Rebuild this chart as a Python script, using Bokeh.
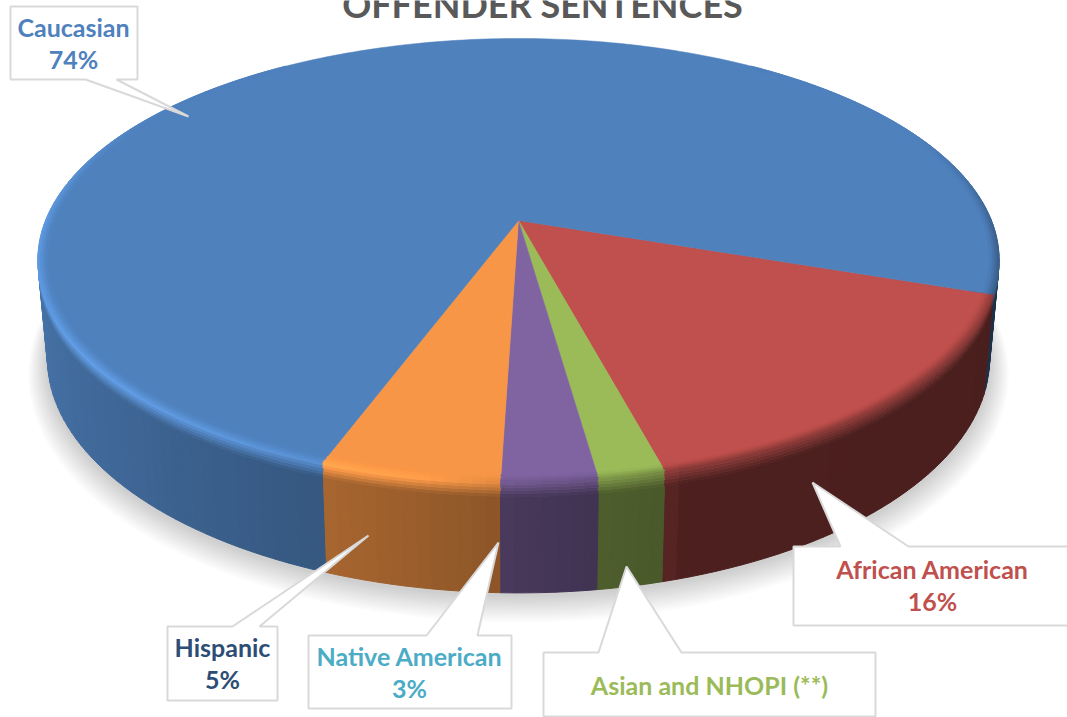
import numpy as np
from bokeh.plotting import figure
from bokeh.embed import file_html
from bokeh.resources import INLINE
from bokeh.core.properties import value

title = "OFFENDER SENTENCES"
categories = ["African American", "Asian and NHOPI (**)", "Native American", "Hispanic", "Caucasian"]
shares = [15.6, 1.9, 2.72, 5.1, 74.68]
share_labels = ["16%", None, "3%", "5%", "74%"]
slice_colors = [(192, 80, 77), (155, 187, 89), (128, 100, 162), (247, 150, 70), (79, 129, 189)]
label_colors = ["#C0504D", "#9BBB59", "#4BACC6", "#2C4D75", "#4F81BD"]

W, H = 1067, 717
FIRST_ANGLE = 109.0
CX, CY, A, B, K = 518.0, 220.0, 473.0, 214.4, 0.178
Z_BEVEL, Z_BOTTOM, TAPER = 13.0, 96.0, 0.02


def project(theta_deg, r=1.0, z=0.0):
    th = np.radians(theta_deg)
    u, v = r * np.sin(th), r * np.cos(th)
    d = 1 + K * v
    s = 1 - TAPER * z / Z_BOTTOM
    return CX + A * s * u / d, CY + z / d - B * s * v / d


L_T = [0, 60, 109, 163, 165, 172, 180, 200, 230, 270, 300, 360]
L_V = [.3, .3, .38, .40, .47, .50, .56, .68, .80, .93, .95, .95]
H_T = [0, 60, 165, 180, 190, 200, 230, 270, 285, 310, 360]
H_V = [0, 0, 0, .2, .5, .6, .8, .8, .5, 0, 0]
S_T = [0, 65, 95, 285, 320, 360]
S_V = [0, 0, 1, 1, 0, 0]


def hexc(c):
    return "#%02x%02x%02x" % tuple(int(np.clip(round(x), 0, 255)) for x in c)


p = figure(width=W, height=H, x_range=(0, W), y_range=(H, 0), output_backend="svg",
           toolbar_location=None, min_border=0, outline_line_color=None)
p.axis.visible = False
p.grid.visible = False

# soft shadow
ts = np.arange(0, 360.5, 3.0)
for i in range(12, 0, -1):
    sx, sy = project(ts, r=1.0 + i * 0.0035, z=Z_BOTTOM + 2 + i * 0.9)
    p.patch(list(sx), list(sy), fill_color="black", fill_alpha=0.016, line_color=None)

bounds = FIRST_ANGLE + np.cumsum([0] + [s / sum(shares) * 360 for s in shares])

side = ([], [], [], [])
bevel = ([], [], [], [])
rim = ([], [], [], [])
STEP = 1.5
N_BANDS = 9
RIM_FRACTION = 0.45


def place(t, a):
    if a < RIM_FRACTION:
        return project(t, r=0.98 + 0.02 * a / RIM_FRACTION, z=0)
    return project(t, z=Z_BEVEL * (a - RIM_FRACTION) / (1 - RIM_FRACTION))


for start, stop, base in zip(bounds[:-1], bounds[1:], slice_colors):
    n = max(1, int(np.ceil((stop - start) / STEP)))
    edges = np.linspace(start, stop, n + 1)
    base = np.array(base, float)
    for t0, t1 in zip(edges[:-1], edges[1:]):
        tm = ((t0 + t1) / 2) % 360
        if not 35 < tm < 325:
            continue
        L = np.interp(tm, L_T, L_V)
        hl = np.interp(tm, H_T, H_V)
        st = np.interp(tm, S_T, S_V)
        x0, y0 = project(t0, z=Z_BEVEL)
        x1, y1 = project(t1, z=Z_BEVEL)
        x2, y2 = project(t1, z=Z_BOTTOM)
        x3, y3 = project(t0, z=Z_BOTTOM)
        side[0].append([x0, x1, x2, x3])
        side[1].append([y0, y1, y2, y3])
        side[2].append(hexc(base * L))
        side[3].append(-np.cos(np.radians(tm)))
        mid = (1 - hl) * base * (1 + L) / 2 + hl * base * 1.3
        for b in range(N_BANDS):
            a0, a1 = b / N_BANDS, (b + 1) / N_BANDS
            am = (a0 + a1) / 2
            if am < 0.5:
                col = base + (mid - base) * (am / 0.5)
            else:
                col = mid + (base * L - mid) * ((am - 0.5) / 0.5)
            pts = [place(t0, a0), place(t1, a0), place(t1, a1), place(t0, a1)]
            if a0 < RIM_FRACTION:
                target = rim
                col = base + (col - base) * st
            else:
                target = bevel
            target[0].append([q[0] for q in pts])
            target[1].append([q[1] for q in pts])
            target[2].append(hexc(col))
            target[3].append(-a0)


def draw(group, lw):
    idx = np.argsort(group[3])
    cols = [group[2][i] for i in idx]
    p.patches([group[0][i] for i in idx], [group[1][i] for i in idx],
              fill_color=cols, line_color=cols, line_width=lw)


draw(side, 1.0)
draw(bevel, 0.7)

# top faces
for start, stop, base in zip(bounds[:-1], bounds[1:], slice_colors):
    t = np.linspace(start, stop, max(3, int((stop - start) / 1.0)))
    fx, fy = project(t, r=1.0)
    p.patch([CX] + list(fx), [CY] + list(fy), fill_color=hexc(base), line_color=hexc(base), line_width=0.5)

draw(rim, 0.7)

# callouts: box corners and pointer
BORDER = "#d9d9d9"
callouts = {
    "Caucasian": ((10, 6, 137, 79), "bottom", (85, 116), (188, 116)),
    "Hispanic": ((167, 626, 277, 700), "top", (232, 259), (368, 535)),
    "Native American": ((308, 635, 511, 708), "top", (426, 477), (498, 542)),
    "Asian and NHOPI (**)": ((543, 652, 875, 716), "top", (598, 681), (626, 566)),
    "African American": ((793, 546, 1075, 625), "top", (840, 908), (812, 482)),
}
for name, ((l, t_, r, b), where, (ta, tb), tip) in callouts.items():
    if where == "top":
        px = [l, ta, tip[0], tb, r, r, l]
        py = [t_, t_, tip[1], t_, t_, b, b]
    else:
        px = [l, r, r, tb, tip[0], ta, l]
        py = [t_, t_, b, b, tip[1], b, b]
    p.patch(px, py, fill_color="white", line_color=BORDER, line_width=2)

label_pos = {
    "Caucasian": (73, 26, 58),
    "Hispanic": (222, 646, 678),
    "Native American": (409, 655, 687),
    "Asian and NHOPI (**)": (709, 684, None),
    "African American": (932, 568, 600),
}
FONT = value("Lato")
for cat, lab, colr in zip(categories, share_labels, label_colors):
    x, y1, y2 = label_pos[cat]
    p.text([x], [y1], text=[cat], text_color=colr, text_font=FONT, text_font_style="bold",
           text_font_size="25px", text_align="center", text_baseline="middle")
    if lab:
        p.text([x], [y2], text=[lab], text_color=colr, text_font=FONT, text_font_style="bold",
               text_font_size="25px", text_align="center", text_baseline="middle")

p.text([542], [3], text=[title], text_color="#595959", text_font=FONT, text_font_style="bold",
       text_font_size="36px", text_align="center", text_baseline="middle")

open("out.html", "w").write(file_html(p, INLINE))
